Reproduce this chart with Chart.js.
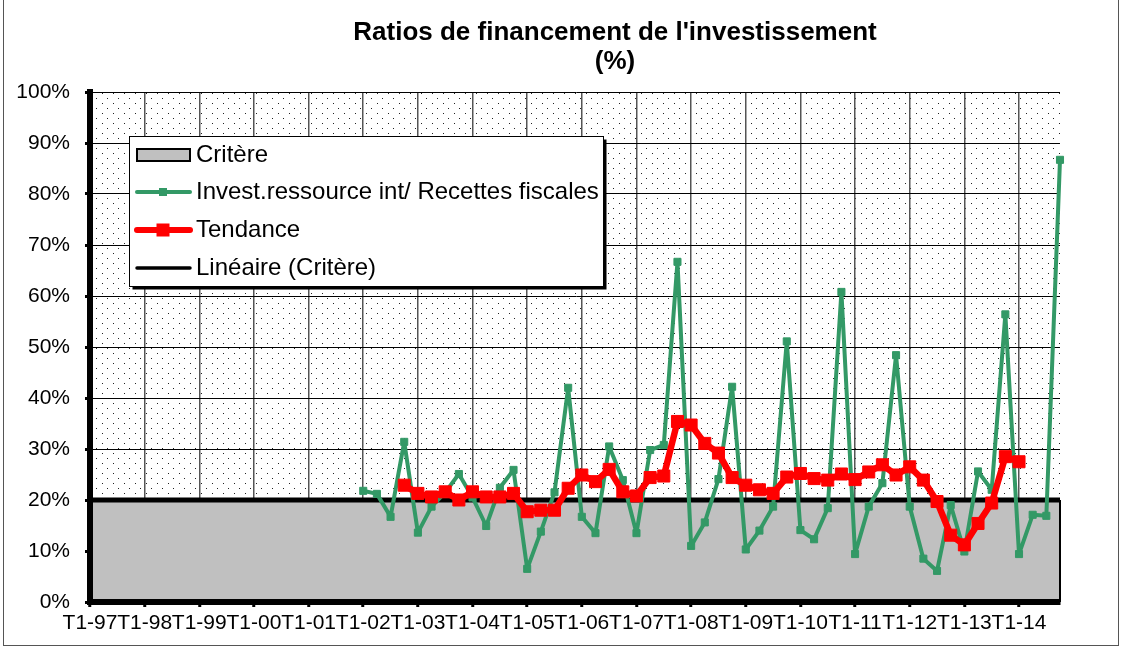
<!DOCTYPE html>
<html lang="fr">
<head>
<meta charset="utf-8">
<title>Ratios de financement de l'investissement</title>
<script src="https://cdn.jsdelivr.net/npm/chart.js@4.4.1/dist/chart.umd.min.js"></script>
<style>
  html, body { margin: 0; padding: 0; background: #fff; }
  #wrap { width: 1126px; height: 650px; }
</style>
</head>
<body>
<div id="wrap"><canvas id="ratioChart" width="1126" height="650"></canvas></div>
<script>
// quarters T1-97 .. T4-14
const years = ['97', '98', '99', '00', '01', '02', '03', '04', '05', '06', '07', '08', '09', '10', '11', '12', '13', '14'];
const quarters = ['T1', 'T2', 'T3', 'T4'];
const categories = [];
years.forEach(y => quarters.forEach(q => categories.push(q + '-' + y)));

const critereLevel = 20;

// Invest.ressource int / Recettes fiscales, from T1-02
const investFrom = 'T1-02';
const investValues = [
  21.8, 21.2, 16.7, 31.4, 13.6, 18.7, 21.5, 25.1, 20.5, 14.9,
  22.4, 25.9, 6.5, 13.8, 21.5, 42.0, 16.7, 13.5, 30.5, 23.9,
  13.5, 29.8, 30.8, 66.7, 11.0, 15.6, 24.1, 42.2, 10.3, 14.0,
  18.7, 51.1, 14.1, 12.3, 18.4, 60.8, 9.4, 18.7, 23.3, 48.4,
  18.7, 8.5, 6.1, 19.0, 9.9, 25.6, 22.0, 56.4, 9.4, 17.1,
  16.9, 86.7
];

// Tendance, from T4-02 to T1-14
const tendanceFrom = 'T4-02';
const tendanceValues = [
  22.9, 21.3, 20.6, 21.6, 20.0, 21.6, 20.6, 20.6, 21.3, 17.7,
  18.0, 18.0, 22.3, 24.9, 23.6, 26.0, 21.6, 20.8, 24.4, 24.7,
  35.4, 34.7, 31.1, 29.2, 24.4, 22.9, 22.0, 21.3, 24.5, 25.2,
  24.2, 23.9, 25.1, 24.0, 25.5, 26.9, 24.9, 26.5, 23.9, 19.7,
  13.1, 11.2, 15.4, 19.4, 28.5, 27.5
];

const yTicks = [0, 10, 20, 30, 40, 50, 60, 70, 80, 90, 100];

const FONT = '"Liberation Sans", Arial, sans-serif';
const GREEN = '#339966';
const RED = '#ff0000';
const GREY = '#c0c0c0';

function alignTo(start, values) {
  const offset = categories.indexOf(start);
  return categories.map((_, i) => (i >= offset && i - offset < values.length) ? values[i - offset] : null);
}

// dotted fill behind the plot
const dottedBackground = {
  id: 'dottedBackground',
  beforeDraw(chart) {
    const { ctx, chartArea: a } = chart;
    const tile = document.createElement('canvas');
    tile.width = 11;
    tile.height = 10;
    const t = tile.getContext('2d');
    t.fillStyle = '#fff';
    t.fillRect(0, 0, 11, 10);
    t.fillStyle = '#222';
    t.fillRect(1, 1, 1, 1);
    t.fillRect(6, 6, 1, 1);
    ctx.save();
    ctx.translate(a.left, a.top);
    ctx.fillStyle = ctx.createPattern(tile, 'repeat');
    ctx.fillRect(0, 0, a.right - a.left, a.bottom - a.top);
    ctx.restore();
  }
};

// closing edge of the grey area on the right
const areaEdge = {
  id: 'areaEdge',
  afterDatasetDraw(chart, args) {
    if (args.index !== 0) return;
    const { ctx, chartArea: a, scales: { y } } = chart;
    ctx.save();
    ctx.strokeStyle = '#000';
    ctx.lineWidth = 2;
    ctx.beginPath();
    ctx.moveTo(a.right, y.getPixelForValue(critereLevel));
    ctx.lineTo(a.right, y.getPixelForValue(0));
    ctx.stroke();
    ctx.restore();
  }
};

// title, outer frame and boxed legend
const decorations = {
  id: 'decorations',
  afterDraw(chart) {
    const { ctx } = chart;
    ctx.save();

    ctx.fillStyle = '#000';
    ctx.font = 'bold 26px ' + FONT;
    ctx.textAlign = 'center';
    ctx.textBaseline = 'middle';
    ctx.fillText("Ratios de financement de l'investissement", 615, 33);
    ctx.fillText('(%)', 615, 62);

    ctx.strokeStyle = '#555';
    ctx.lineWidth = 1;
    ctx.strokeRect(3.5, -2, 1115, 647.5);

    // legend box with drop shadow
    const bx = 129.5, by = 136.5, bw = 474, bh = 150;
    ctx.fillStyle = '#000';
    ctx.fillRect(bx + 3, by + 3, bw, bh);
    ctx.fillStyle = '#fff';
    ctx.fillRect(bx, by, bw, bh);
    ctx.strokeStyle = '#000';
    ctx.strokeRect(bx, by, bw, bh);

    const ds = chart.data.datasets;
    const rows = [155, 192, 230, 268];
    const x0 = 137, x1 = 190, xm = 163;

    // Critère swatch
    ctx.fillStyle = GREY;
    ctx.fillRect(x0, rows[0] - 6, x1 - x0, 12);
    ctx.lineWidth = 2;
    ctx.strokeRect(x0, rows[0] - 6, x1 - x0, 12);

    // line swatches
    const lineSwatch = (y, color, width, marker) => {
      ctx.strokeStyle = color;
      ctx.lineWidth = width;
      ctx.lineCap = 'round';
      ctx.beginPath();
      ctx.moveTo(x0, y);
      ctx.lineTo(x1, y);
      ctx.stroke();
      if (marker) {
        ctx.fillStyle = color;
        ctx.fillRect(xm - marker / 2, y - marker / 2, marker, marker);
      }
    };
    lineSwatch(rows[1], GREEN, 4, 8);
    lineSwatch(rows[2], RED, 6, 13);
    lineSwatch(rows[3], '#000', 3.5, 0);

    ctx.fillStyle = '#000';
    ctx.font = '24px ' + FONT;
    ctx.textAlign = 'left';
    ctx.textBaseline = 'middle';
    ds.forEach((d, i) => ctx.fillText(d.label, 196, rows[i]));

    ctx.restore();
  }
};

const ctx = document.getElementById('ratioChart').getContext('2d');
const chart = new Chart(ctx, {
  type: 'line',
  data: {
    labels: categories,
    datasets: [
      {
        label: 'Critère',
        data: categories.map(() => critereLevel),
        fill: 'origin',
        backgroundColor: GREY,
        borderColor: '#000',
        borderWidth: 1,
        pointRadius: 0,
        order: 4
      },
      {
        label: 'Invest.ressource int/ Recettes fiscales',
        data: alignTo(investFrom, investValues),
        borderColor: GREEN,
        backgroundColor: GREEN,
        borderWidth: 4,
        borderJoinStyle: 'round',
        pointStyle: 'rect',
        pointRadius: 5,
        pointBorderWidth: 1,
        order: 2
      },
      {
        label: 'Tendance',
        data: alignTo(tendanceFrom, tendanceValues),
        borderColor: RED,
        backgroundColor: RED,
        borderWidth: 6.5,
        borderJoinStyle: 'round',
        pointStyle: 'rect',
        pointRadius: 8.5,
        pointBorderWidth: 1,
        order: 1
      },
      {
        label: 'Linéaire (Critère)',
        data: categories.map(() => critereLevel),
        borderColor: '#000',
        borderWidth: 5,
        pointRadius: 0,
        fill: false,
        order: 3
      }
    ]
  },
  options: {
    responsive: false,
    animation: false,
    devicePixelRatio: 1,
    layout: { padding: { top: 92, right: 66, bottom: 0, left: 0 } },
    elements: { line: { tension: 0 } },
    plugins: {
      legend: { display: false },
      tooltip: { enabled: false },
      title: { display: false }
    },
    scales: {
      x: {
        offset: false,
        grid: {
          color: c => c.index % 4 === 0 ? '#555' : 'transparent',
          lineWidth: 1.5,
          tickLength: 5,
          tickWidth: 3,
          tickColor: c => c.index % 4 === 0 ? '#000' : 'transparent'
        },
        border: { color: '#000', width: 6, z: 1 },
        ticks: {
          autoSkip: false,
          maxRotation: 0,
          minRotation: 0,
          padding: 4,
          color: '#000',
          font: { family: FONT, size: 21 },
          callback: (v, i) => i % 4 === 0 ? categories[i] : ''
        },
        afterFit: s => { s.height = 48; }
      },
      y: {
        min: 0,
        max: 100,
        afterBuildTicks: s => { s.ticks = yTicks.map(v => ({ value: v })); },
        grid: { color: '#000', lineWidth: 1, tickLength: 5, tickWidth: 3, tickColor: '#000' },
        border: { color: '#000', width: 6, z: 1 },
        ticks: {
          padding: 15,
          color: '#000',
          font: { family: FONT, size: 21 },
          callback: v => v + '%'
        },
        afterFit: s => { s.width = 90; }
      }
    }
  },
  plugins: [dottedBackground, areaEdge, decorations]
});
</script>
</body>
</html>
